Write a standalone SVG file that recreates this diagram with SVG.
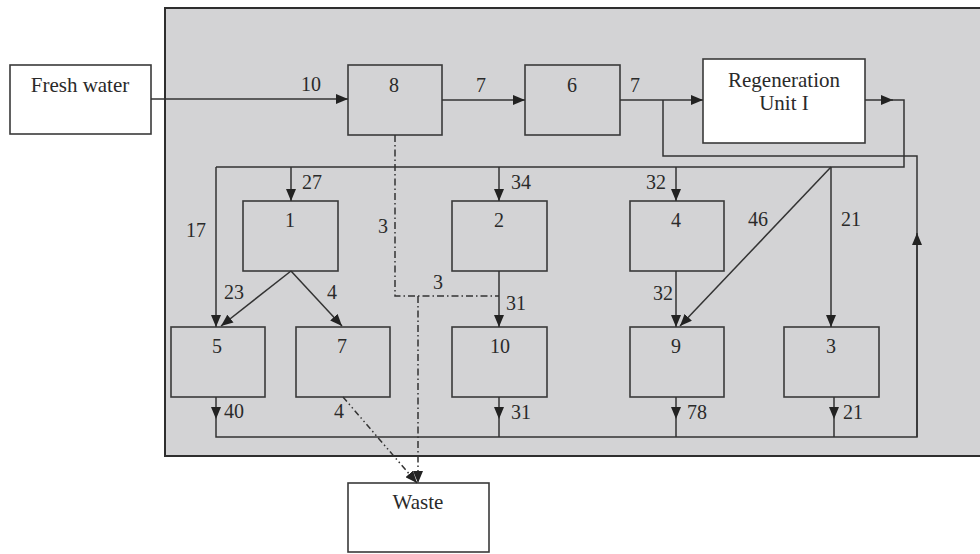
<svg xmlns="http://www.w3.org/2000/svg" width="980" height="554" viewBox="0 0 980 554">
<defs>
<marker id="ah" markerUnits="userSpaceOnUse" markerWidth="12" markerHeight="10" refX="12" refY="5" orient="auto">
<path d="M0,0 L12,5 L0,10 z" fill="#222"/>
</marker>
</defs>
<style>
.bg{fill:#d3d3d5;stroke:#2e2e2e;stroke-width:2}
.box{fill:#d3d3d5;stroke:#3a3a3a;stroke-width:1.6}
.wbox{fill:#ffffff;stroke:#3a3a3a;stroke-width:1.6}
.ln{fill:none;stroke:#333;stroke-width:1.5}
.arr{fill:none;stroke:#333;stroke-width:1.5;marker-end:url(#ah)}
.dd{fill:none;stroke:#333;stroke-width:1.5;stroke-dasharray:7 3 1.5 3}
.ddd{fill:none;stroke:#333;stroke-width:1.5;stroke-dasharray:6 3 1.5 3 1.5 3}
text{font-family:"Liberation Serif","Times New Roman",serif;fill:#2a2a2a}
.nm{font-size:21px;text-anchor:middle}
.num{font-size:20px}
.mid{text-anchor:middle}
</style>
<rect class="bg" x="165" y="8" width="830" height="448"/>

<g id="fresh"><rect class="wbox" x="10" y="65" width="141" height="69"/><text class="nm" x="80" y="92">Fresh water</text></g>
<g id="n8"><rect class="box" x="348" y="65" width="94" height="70"/><text class="num mid" x="394" y="92">8</text></g>
<g id="n6"><rect class="box" x="525" y="65" width="95" height="70"/><text class="num mid" x="572" y="92">6</text></g>
<g id="regen"><rect class="wbox" x="703" y="59" width="162" height="84"/><text class="nm" x="784" y="87">Regeneration</text><text class="nm" x="784" y="110">Unit I</text></g>
<g id="n1"><rect class="box" x="243" y="201" width="95" height="70"/><text class="num mid" x="290" y="227">1</text></g>
<g id="n2"><rect class="box" x="452" y="201" width="95" height="70"/><text class="num mid" x="499" y="227">2</text></g>
<g id="n4"><rect class="box" x="630" y="201" width="94" height="70"/><text class="num mid" x="676" y="227">4</text></g>
<g id="n5"><rect class="box" x="171" y="327" width="94" height="70"/><text class="num mid" x="217" y="353">5</text></g>
<g id="n7"><rect class="box" x="296" y="327" width="94" height="70"/><text class="num mid" x="342" y="353">7</text></g>
<g id="n10"><rect class="box" x="452" y="327" width="95" height="70"/><text class="num mid" x="500" y="353">10</text></g>
<g id="n9"><rect class="box" x="630" y="327" width="94" height="70"/><text class="num mid" x="676" y="353">9</text></g>
<g id="n3"><rect class="box" x="784" y="327" width="95" height="70"/><text class="num mid" x="831" y="353">3</text></g>
<g id="waste"><rect class="wbox" x="348" y="483" width="141" height="69"/><text class="nm" x="418" y="509">Waste</text></g>

<g id="connectors">
<path class="arr" d="M151,99 L348,99"/>
<path class="arr" d="M442,100 L525,100"/>
<path class="arr" d="M620,100 L703,100"/>
<path class="arr" d="M865,100 L893,100"/>
<path class="ln" d="M890,100 L904,100 L904,167 L216,167"/>
<path class="arr" d="M216,167 L216,327"/>
<path class="arr" d="M291,167 L291,201"/>
<path class="arr" d="M499,167 L499,201"/>
<path class="arr" d="M676,167 L676,201"/>
<path class="arr" d="M831,167 L831,327"/>
<path class="arr" d="M831,167 L680,326"/>
<path class="arr" d="M291,271 L221,326"/>
<path class="arr" d="M291,271 L342,326"/>
<path class="arr" d="M499,271 L499,327"/>
<path class="arr" d="M676,271 L676,327"/>
<path class="arr" d="M216,397 L216,419"/>
<path class="arr" d="M499,397 L499,419"/>
<path class="arr" d="M676,397 L676,419"/>
<path class="arr" d="M834,397 L834,419"/>
<path class="ln" d="M216,419 L216,437 L917,437 L917,233"/>
<path class="ln" d="M499,419 L499,437 M676,419 L676,437 M834,419 L834,437"/>
<path class="arr" d="M917,437 L917,233"/>
<path class="ln" d="M917,234 L917,156 L663,156 L663,100"/>
<path class="dd" d="M395,135 L395,296 L499,296"/>
<path class="dd" d="M418,296 L418,483" marker-end="url(#ah)"/>
<path class="ddd" d="M343,397 L417,483" marker-end="url(#ah)"/>
</g>

<g id="labels">
<text class="num" x="301" y="91">10</text>
<text class="num" x="476" y="92">7</text>
<text class="num" x="630" y="92">7</text>
<text class="num" x="302" y="189">27</text>
<text class="num" x="511" y="189">34</text>
<text class="num" x="646" y="189">32</text>
<text class="num" x="186" y="237">17</text>
<text class="num" x="378" y="233">3</text>
<text class="num" x="748" y="226">46</text>
<text class="num" x="841" y="226">21</text>
<text class="num" x="224" y="299">23</text>
<text class="num" x="327" y="299">4</text>
<text class="num" x="433" y="289">3</text>
<text class="num" x="506" y="310">31</text>
<text class="num" x="653" y="300">32</text>
<text class="num" x="224" y="418">40</text>
<text class="num" x="334" y="418">4</text>
<text class="num" x="511" y="419">31</text>
<text class="num" x="687" y="419">78</text>
<text class="num" x="843" y="419">21</text>
</g>
</svg>
